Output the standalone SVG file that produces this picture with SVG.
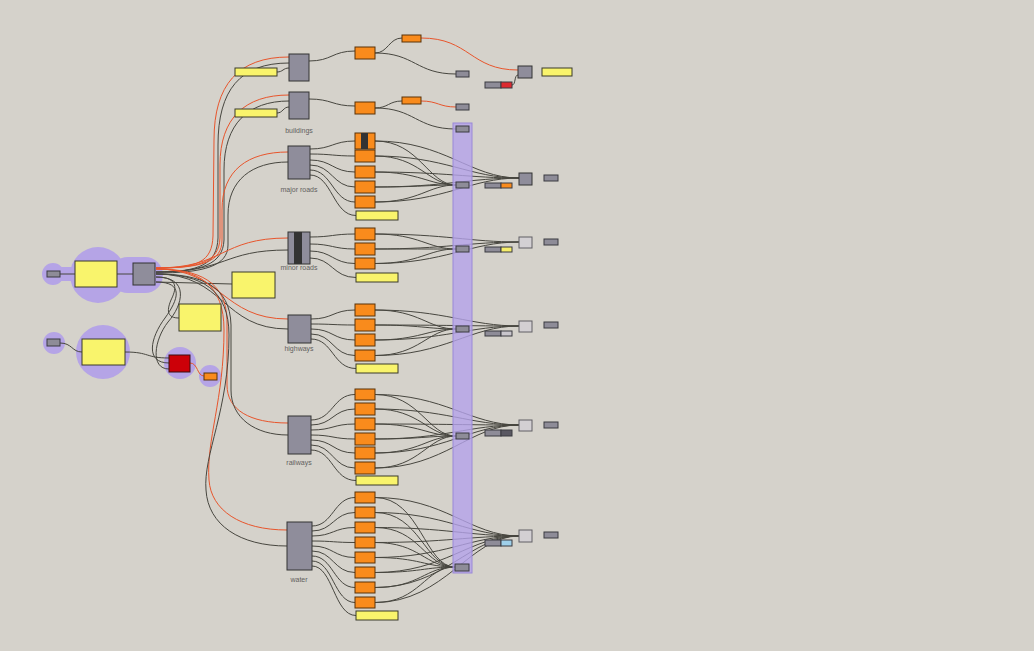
<svg xmlns="http://www.w3.org/2000/svg" width="1034" height="651" viewBox="0 0 1034 651">
<style>
.w{fill:none;stroke:#47463f;stroke-width:1}
.r{fill:none;stroke:#e8552c;stroke-width:1}
.g{fill:#8f8d9b;stroke:#333;stroke-width:1}
.lg{fill:#d3d0d3;stroke:#605e64;stroke-width:1}
.y{fill:#f9f46c;stroke:#3a3a2a;stroke-width:1}
.o{fill:#f98b1c;stroke:#5a3208;stroke-width:1}
.s{fill:#8e8c98;stroke:#3a3a40;stroke-width:1}
.blob{fill:#b5a4e6}
.lbl{font-family:"Liberation Sans",Arial,sans-serif;font-size:7px;fill:#625f5e;text-anchor:middle}
</style>
<rect width="1034" height="651" fill="#d5d2cb"/>
<g id="groups">
<circle class="blob" cx="53" cy="274" r="11"/>
<rect class="blob" x="53" y="267" width="30" height="14"/>
<circle class="blob" cx="98" cy="275" r="28"/>
<rect class="blob" x="110" y="257" width="53" height="36" rx="18"/>
<circle class="blob" cx="54" cy="343" r="11"/>
<circle class="blob" cx="103" cy="352" r="27"/>
<circle class="blob" cx="180" cy="363" r="16"/>
<circle class="blob" cx="210" cy="376" r="11"/>
</g>
<g id="connectors">
<path class="w" d="M60,274 L75,274"/>
<path class="w" d="M117,274 L133,274"/>
<path class="w" d="M60,343 C72,343 72,352 82,352"/>
<path class="w" d="M125,352 C150,352 145,358 169,358"/>
<path class="w" d="M156,282 C185,282 178,300 165,318 C150,338 145,363 169,363"/>
<path class="w" d="M156,277 C190,277 183,305 168,322 C154,340 150,369 169,369"/>
<path class="w" d="M156,277 C180,277 176,290 171,300 C166,312 168,318 179,318"/>
<path class="w" d="M156,282 L232,284"/>
<path class="r" d="M190,363 C198,363 197,376 204,376"/>
<path class="r" d="M156,268 C198,268 212,262 213,236 L214,140 C214,85 238,57 289,57"/>
<path class="w" d="M156,272 C200,272 217,264 218,238 L218,145 C218,90 240,63 289,63"/>
<path class="r" d="M156,268 C200,268 219,262 220,238 L220,165 C220,118 245,95 289,95"/>
<path class="w" d="M156,272 C202,272 223,264 224,240 L224,170 C224,124 248,101 289,101"/>
<path class="r" d="M156,268 C202,268 222,262 222,240 L222,210 C222,170 248,152 288,152"/>
<path class="w" d="M156,273 C204,273 228,266 228,245 L228,215 C228,180 252,162 288,162"/>
<path class="r" d="M156,268 C225,268 220,238 288,238"/>
<path class="w" d="M156,272 C228,272 222,250 288,250"/>
<path class="r" d="M156,269 C222,269 222,319 288,319"/>
<path class="w" d="M156,274 C225,274 222,329 288,329"/>
<path class="r" d="M156,269 C200,269 226,282 227,320 L227,385 C227,410 250,423 288,423"/>
<path class="w" d="M156,274 C202,274 230,286 231,325 L231,390 C231,418 255,435 288,435"/>
<path class="r" d="M156,269 C200,269 224,285 224,330 C224,400 206,440 209,480 C211,510 240,530 287,530"/>
<path class="w" d="M156,274 C202,274 229,290 229,335 C229,410 203,455 206,490 C208,525 240,546 287,546"/>
<path class="w" d="M277,72 C283,72 283,68 289,68"/>
<path class="w" d="M277,113 C283,113 283,107 289,107"/>
<path class="w" d="M309,61 C332,61 332,51 355,51"/>
<path class="w" d="M309,99 C332,99 332,106 355,106"/>
<path class="w" d="M375,53 C388,53 389,38 402,38"/>
<path class="w" d="M375,53 C415,53 416,74 456,74"/>
<path class="r" d="M421,38 C470,38 470,70 518,70"/>
<path class="w" d="M512,85 C516,85 514,75 518,75"/>
<path class="w" d="M375,108 C388,108 389,101 402,101"/>
<path class="w" d="M375,108 C415,108 416,129 456,129"/>
<path class="r" d="M421,101 C438,101 439,107 456,107"/>
<path class="w" d="M310,149 C332,149 333,141 355,141"/>
<path class="w" d="M310,154 C332,154 333,156 355,156"/>
<path class="w" d="M310,160 C332,160 333,172 355,172"/>
<path class="w" d="M310,165 C332,165 333,187 355,187"/>
<path class="w" d="M310,170 C332,170 333,202 355,202"/>
<path class="w" d="M310,175 C332,175 333,215.5 356,215.5"/>
<path class="w" d="M375,141 C420,141 428,185 456,185"/>
<path class="w" d="M375,156 C420,156 428,185 456,185"/>
<path class="w" d="M375,172 C420,172 428,185 456,185"/>
<path class="w" d="M375,187 C420,187 428,185 456,185"/>
<path class="w" d="M375,202 C420,202 428,185 456,185"/>
<path class="w" d="M375,141 C445,141 470,178 519,178"/>
<path class="w" d="M375,156 C445,156 470,178 519,178"/>
<path class="w" d="M375,172 C445,172 470,178 519,178"/>
<path class="w" d="M375,187 C445,187 470,178 519,178"/>
<path class="w" d="M375,202 C445,202 470,178 519,178"/>
<path class="w" d="M310,237 C332,237 333,234 355,234"/>
<path class="w" d="M310,244 C332,244 333,249 355,249"/>
<path class="w" d="M310,251 C332,251 333,263.5 355,263.5"/>
<path class="w" d="M310,258 C332,258 333,277.5 356,277.5"/>
<path class="w" d="M375,234 C420,234 428,249 456,249"/>
<path class="w" d="M375,249 C420,249 428,249 456,249"/>
<path class="w" d="M375,263.5 C420,263.5 428,249 456,249"/>
<path class="w" d="M375,234 C445,234 470,242 519,242"/>
<path class="w" d="M375,249 C445,249 470,242 519,242"/>
<path class="w" d="M375,263.5 C445,263.5 470,242 519,242"/>
<path class="w" d="M311,319 C333,319 333,310 355,310"/>
<path class="w" d="M311,324 C333,324 333,325 355,325"/>
<path class="w" d="M311,329 C333,329 333,340 355,340"/>
<path class="w" d="M311,334 C333,334 333,355.5 355,355.5"/>
<path class="w" d="M311,339 C333,339 333,368.5 356,368.5"/>
<path class="w" d="M375,310 C420,310 428,329 456,329"/>
<path class="w" d="M375,325 C420,325 428,329 456,329"/>
<path class="w" d="M375,340 C420,340 428,329 456,329"/>
<path class="w" d="M375,355.5 C420,355.5 428,329 456,329"/>
<path class="w" d="M375,310 C445,310 470,326 519,326"/>
<path class="w" d="M375,325 C445,325 470,326 519,326"/>
<path class="w" d="M375,340 C445,340 470,326 519,326"/>
<path class="w" d="M375,355.5 C445,355.5 470,326 519,326"/>
<path class="w" d="M311,420 C333,420 333,394.5 355,394.5"/>
<path class="w" d="M311,425 C333,425 333,409 355,409"/>
<path class="w" d="M311,430 C333,430 333,424 355,424"/>
<path class="w" d="M311,435 C333,435 333,439 355,439"/>
<path class="w" d="M311,440 C333,440 333,453 355,453"/>
<path class="w" d="M311,445 C333,445 333,468 355,468"/>
<path class="w" d="M311,450 C333,450 333,480.5 356,480.5"/>
<path class="w" d="M375,394.5 C420,394.5 428,436 456,436"/>
<path class="w" d="M375,409 C420,409 428,436 456,436"/>
<path class="w" d="M375,424 C420,424 428,436 456,436"/>
<path class="w" d="M375,439 C420,439 428,436 456,436"/>
<path class="w" d="M375,453 C420,453 428,436 456,436"/>
<path class="w" d="M375,468 C420,468 428,436 456,436"/>
<path class="w" d="M375,394.5 C445,394.5 470,425 519,425"/>
<path class="w" d="M375,409 C445,409 470,425 519,425"/>
<path class="w" d="M375,424 C445,424 470,425 519,425"/>
<path class="w" d="M375,439 C445,439 470,425 519,425"/>
<path class="w" d="M375,453 C445,453 470,425 519,425"/>
<path class="w" d="M375,468 C445,468 470,425 519,425"/>
<path class="w" d="M312,526 C333,526 334,497.5 355,497.5"/>
<path class="w" d="M312,531 C333,531 334,512.5 355,512.5"/>
<path class="w" d="M312,536 C333,536 334,527.5 355,527.5"/>
<path class="w" d="M312,541 C333,541 334,542.5 355,542.5"/>
<path class="w" d="M312,546 C333,546 334,557.5 355,557.5"/>
<path class="w" d="M312,551 C333,551 334,572.5 355,572.5"/>
<path class="w" d="M312,556 C333,556 334,587.5 355,587.5"/>
<path class="w" d="M312,561 C333,561 334,602.5 355,602.5"/>
<path class="w" d="M312,566 C333,566 334,615.5 356,615.5"/>
<path class="w" d="M375,497.5 C420,497.5 425,567 455,567"/>
<path class="w" d="M375,512.5 C420,512.5 425,567 455,567"/>
<path class="w" d="M375,527.5 C420,527.5 425,567 455,567"/>
<path class="w" d="M375,542.5 C420,542.5 425,567 455,567"/>
<path class="w" d="M375,557.5 C420,557.5 425,567 455,567"/>
<path class="w" d="M375,572.5 C420,572.5 425,567 455,567"/>
<path class="w" d="M375,587.5 C420,587.5 425,567 455,567"/>
<path class="w" d="M375,602.5 C420,602.5 425,567 455,567"/>
<path class="w" d="M375,497.5 C445,497.5 470,536 519,536"/>
<path class="w" d="M375,512.5 C445,512.5 470,536 519,536"/>
<path class="w" d="M375,527.5 C445,527.5 470,536 519,536"/>
<path class="w" d="M375,542.5 C445,542.5 470,536 519,536"/>
<path class="w" d="M375,557.5 C445,557.5 470,536 519,536"/>
<path class="w" d="M375,572.5 C445,572.5 470,536 519,536"/>
<path class="w" d="M375,587.5 C445,587.5 470,536 519,536"/>
<path class="w" d="M375,602.5 C445,602.5 470,536 519,536"/>
</g>
<g id="column"><rect x="453" y="123" width="19" height="450" fill="#b4a2ea" fill-opacity="0.8" stroke="#9a88d8"/></g>
<g id="n-src-in"><rect class="s" x="47" y="271" width="13" height="6"/></g>
<g id="n-src-panel"><rect class="y" x="75" y="261" width="42" height="26"/></g>
<g id="n-src"><rect class="g" x="133" y="263" width="22" height="22"/></g>
<g id="n-in2"><rect class="s" x="47" y="339" width="13" height="7"/></g>
<g id="n-panel2"><rect class="y" x="82" y="339" width="43" height="26"/></g>
<g id="n-red"><rect x="169" y="355" width="21" height="17" fill="#cc0008" stroke="#3a1010"/></g>
<g id="n-redout"><rect class="o" x="204" y="373" width="13" height="7"/></g>
<g id="n-panel3"><rect class="y" x="179" y="304" width="42" height="27"/></g>
<g id="n-panel4"><rect class="y" x="232" y="272" width="43" height="26"/></g>
<g id="n-top1">
<rect class="y" x="235" y="68" width="42" height="8"/>
<rect class="g" x="289" y="54" width="20" height="27"/>
<rect class="o" x="355" y="47" width="20" height="12"/>
<rect class="o" x="402" y="35" width="19" height="7"/>
<rect class="s" x="456" y="71" width="13" height="6"/>
<rect class="g" x="518" y="66" width="14" height="12"/>
<rect class="y" x="542" y="68" width="30" height="8"/>
<rect class="s" x="485" y="82" width="16" height="6"/>
<rect x="501" y="82" width="11" height="6" fill="#dd2a30" stroke="#3a3a40"/>
</g>
<g id="n-buildings">
<rect class="y" x="235" y="109" width="42" height="8"/>
<rect class="g" x="289" y="92" width="20" height="27"/>
<text class="lbl" x="299" y="133">buildings</text>
<rect class="o" x="355" y="102" width="20" height="12"/>
<rect class="o" x="402" y="97" width="19" height="7"/>
<rect class="s" x="456" y="104" width="13" height="6"/>
<rect class="s" x="456" y="126" width="13" height="6"/>
</g>
<g id="n-major">
<rect class="g" x="288" y="146" width="22" height="33"/>
<text class="lbl" x="299" y="192">major roads</text>
<rect class="o" x="355" y="133" width="20" height="16"/>
<rect x="361" y="133" width="7" height="16" fill="#333"/>
<rect class="o" x="355" y="150" width="20" height="12"/>
<rect class="o" x="355" y="166" width="20" height="12"/>
<rect class="o" x="355" y="181" width="20" height="12"/>
<rect class="o" x="355" y="196" width="20" height="12"/>
<rect class="y" x="356" y="211" width="42" height="9"/>
<rect class="s" x="456" y="182" width="13" height="6"/>
<rect class="g" x="519" y="173" width="13" height="12"/>
<rect class="s" x="485" y="183" width="16" height="5"/>
<rect x="501" y="183" width="11" height="5" fill="#f98b1c" stroke="#3a3a40"/>
<rect class="s" x="544" y="175" width="14" height="6"/>
</g>
<g id="n-minor">
<rect class="g" x="288" y="232" width="22" height="32"/>
<rect x="294" y="232" width="8" height="32" fill="#333"/>
<text class="lbl" x="299" y="270">minor roads</text>
<rect class="o" x="355" y="228" width="20" height="12"/>
<rect class="o" x="355" y="243" width="20" height="12"/>
<rect class="o" x="355" y="258" width="20" height="11"/>
<rect class="y" x="356" y="273" width="42" height="9"/>
<rect class="s" x="456" y="246" width="13" height="6"/>
<rect class="lg" x="519" y="237" width="13" height="11"/>
<rect class="s" x="485" y="247" width="16" height="5"/>
<rect x="501" y="247" width="11" height="5" fill="#f6ee6a" stroke="#3a3a40"/>
<rect class="s" x="544" y="239" width="14" height="6"/>
</g>
<g id="n-highways">
<rect class="g" x="288" y="315" width="23" height="28"/>
<text class="lbl" x="299" y="351">highways</text>
<rect class="o" x="355" y="304" width="20" height="12"/>
<rect class="o" x="355" y="319" width="20" height="12"/>
<rect class="o" x="355" y="334" width="20" height="12"/>
<rect class="o" x="355" y="350" width="20" height="11"/>
<rect class="y" x="356" y="364" width="42" height="9"/>
<rect class="s" x="456" y="326" width="13" height="6"/>
<rect class="lg" x="519" y="321" width="13" height="11"/>
<rect class="s" x="485" y="331" width="16" height="5"/>
<rect x="501" y="331" width="11" height="5" fill="#c9c6cc" stroke="#3a3a40"/>
<rect class="s" x="544" y="322" width="14" height="6"/>
</g>
<g id="n-railways">
<rect class="g" x="288" y="416" width="23" height="38"/>
<text class="lbl" x="299" y="465">railways</text>
<rect class="o" x="355" y="389" width="20" height="11"/>
<rect class="o" x="355" y="403" width="20" height="12"/>
<rect class="o" x="355" y="418" width="20" height="12"/>
<rect class="o" x="355" y="433" width="20" height="12"/>
<rect class="o" x="355" y="447" width="20" height="12"/>
<rect class="o" x="355" y="462" width="20" height="12"/>
<rect class="y" x="356" y="476" width="42" height="9"/>
<rect class="s" x="456" y="433" width="13" height="6"/>
<rect class="lg" x="519" y="420" width="13" height="11"/>
<rect class="s" x="485" y="430" width="16" height="6"/>
<rect x="501" y="430" width="11" height="6" fill="#5a5862" stroke="#3a3a40"/>
<rect class="s" x="544" y="422" width="14" height="6"/>
</g>
<g id="n-water">
<rect class="g" x="287" y="522" width="25" height="48"/>
<text class="lbl" x="299" y="582">water</text>
<rect class="o" x="355" y="492" width="20" height="11"/>
<rect class="o" x="355" y="507" width="20" height="11"/>
<rect class="o" x="355" y="522" width="20" height="11"/>
<rect class="o" x="355" y="537" width="20" height="11"/>
<rect class="o" x="355" y="552" width="20" height="11"/>
<rect class="o" x="355" y="567" width="20" height="11"/>
<rect class="o" x="355" y="582" width="20" height="11"/>
<rect class="o" x="355" y="597" width="20" height="11"/>
<rect class="y" x="356" y="611" width="42" height="9"/>
<rect class="s" x="455" y="564" width="14" height="7"/>
<rect class="lg" x="519" y="530" width="13" height="12"/>
<rect class="s" x="485" y="540" width="16" height="6"/>
<rect x="501" y="540" width="11" height="6" fill="#9fd0ea" stroke="#3a3a40"/>
<rect class="s" x="544" y="532" width="14" height="6"/>
</g>
</svg>
